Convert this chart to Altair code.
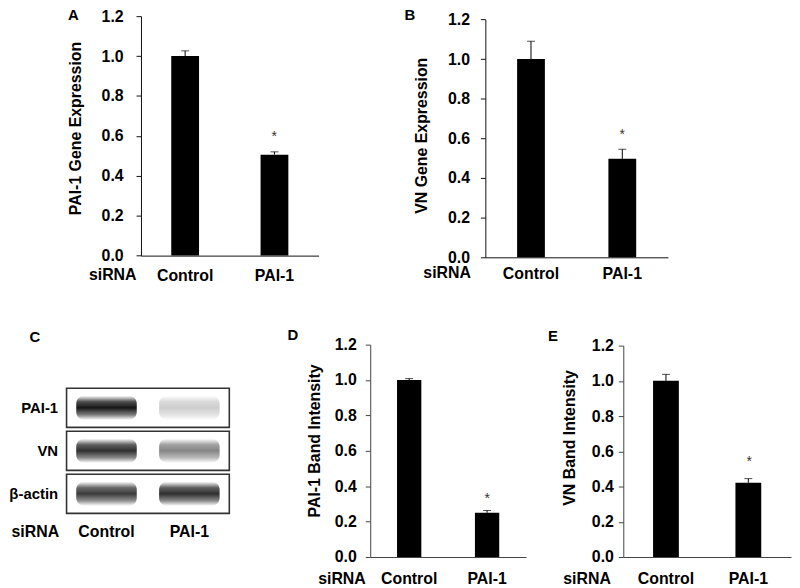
import altair as alt
import pandas as pd

# ---------------- data ----------------
groups = ["Control", "PAI-1"]
y_ticks = [0.0, 0.2, 0.4, 0.6, 0.8, 1.0, 1.2]

a_means = [1.00, 0.506]
a_upper = [1.026, 0.520]
a_star = 0.614

b_means = [1.00, 0.497]
b_upper = [1.090, 0.545]
b_star = 0.635

d_means = [1.00, 0.250]
d_upper = [1.008, 0.263]
d_star = 0.348

e_means = [1.00, 0.422]
e_upper = [1.037, 0.445]
e_star = 0.563

blot_rows = ["PAI-1", "VN", "β-actin"]
blot_lanes = ["Control", "PAI-1"]
pai1_band = [0.95, 0.20]
vn_band = [0.85, 0.50]
actin_band = [0.80, 0.85]

# ---------------- layout helpers ----------------
FONT = "Liberation Sans"
W, H = 790, 578
M = 8  # page margin


def loc(v):
    return v - M


def band_scale(domain, start, end, c1, c2, bw):
    step = c2 - c1
    m = ((c1 - start) + (end - c2)) / 2
    return alt.Scale(domain=domain, range=[loc(start), loc(end)],
                     paddingInner=1 - bw / step,
                     paddingOuter=(m - bw / 2) / step)


def bar_panel(means, upper, star, title, axis_x, axis_end, centers, bw,
              y0, y12, tick_pad, label_base, title_base, title_cy,
              sirna_right, color):
    df = pd.DataFrame({"group": groups, "mean": means, "upper": upper})
    star_df = pd.DataFrame({"group": [groups[1]], "star": [star]})

    def xs():
        return band_scale(groups, axis_x, axis_end, centers[0], centers[1], bw)

    def ys():
        return alt.Scale(domain=[0, 1.2], range=[loc(y0), loc(y12)], nice=False, zero=False)

    xaxis = alt.Axis(orient="bottom", offset=loc(y0) - H, labelAngle=0, ticks=False,
                     domainColor=color, labelPadding=label_base - y0 - 12.6,
                     title="siRNA", titleX=loc(sirna_right), titleY=label_base - y0,
                     titleAlign="right", titleBaseline="alphabetic")
    yaxis = alt.Axis(orient="left", offset=-loc(axis_x), values=y_ticks, format=".1f",
                     tickSize=5, labelPadding=tick_pad, domainColor=color, tickColor=color,
                     title=title, titleX=title_base - axis_x, titleY=loc(title_cy),
                     titleAngle=270, titleBaseline="alphabetic", titleAlign="center")
    base = alt.Chart(df)
    bars = base.mark_bar(color="black").encode(
        x=alt.X("group:N", scale=xs(), axis=xaxis),
        y=alt.Y("mean:Q", scale=ys(), axis=yaxis),
    )
    err = base.mark_rule(color="black", strokeWidth=1).encode(
        x=alt.X("group:N", scale=xs(), axis=None),
        y=alt.Y("mean:Q", scale=ys(), axis=None),
        y2="upper:Q",
    )
    cap = base.mark_tick(color="black", thickness=1, size=8).encode(
        x=alt.X("group:N", scale=xs(), axis=None),
        y=alt.Y("upper:Q", scale=ys(), axis=None),
    )
    st = alt.Chart(star_df).mark_text(text="*", font=FONT, fontSize=14, color="#333",
                                      baseline="middle", dy=4).encode(
        x=alt.X("group:N", scale=xs(), axis=None),
        y=alt.Y("star:Q", scale=ys(), axis=None),
    )
    return [bars, err, cap, st]


panel_a = bar_panel(a_means, a_upper, a_star, "PAI-1 Gene Expression",
                    142, 321, (186, 276), 28, 255.3, 14, 13, 279.6, 81.5, 126.7, 137, "#111")
panel_b = bar_panel(b_means, b_upper, b_star, "VN Gene Expression",
                    489, 673, (535.5, 627.5), 28, 257, 17.3, 11, 277.5, 430, 134, 474, "#111")
panel_d = bar_panel(d_means, d_upper, d_star, "PAI-1 Band Intensity",
                    373, 530, (412, 490.5), 24.5, 559, 345, 9, 585.5, 321.5, 441.5, 368, "#444")
panel_e = bar_panel(e_means, e_upper, e_star, "VN Band Intensity",
                    628, 797, (672, 755), 26, 559, 346, 5, 585.5, 578.5, 438.5, 615, "#444")

# ---------------- western blot (panel C) ----------------
def row_scale():
    return alt.Scale(domain=blot_rows, range=[loc(389), loc(515)],
                     paddingInner=0.09, paddingOuter=0)


frame_df = pd.DataFrame({"row": blot_rows, "frame": ["blot"] * len(blot_rows)})
frames = alt.Chart(frame_df).mark_rect(filled=False, stroke="#333", strokeWidth=1.6).encode(
    x=alt.X("frame:N", scale=alt.Scale(domain=["blot"], range=[loc(67), loc(231)],
                                       paddingInner=0, paddingOuter=0), axis=None),
    y=alt.Y("row:N", scale=row_scale(), axis=None),
)

blot_df = pd.DataFrame({
    "row": [r for r in blot_rows for _ in blot_lanes],
    "lane": blot_lanes * len(blot_rows),
    "intensity": pai1_band + vn_band + actin_band,
})
band_fill = alt.LinearGradient(
    gradient="linear",
    stops=[
        alt.GradientStop(color="rgba(20,20,20,0)", offset=0),
        alt.GradientStop(color="rgba(20,20,20,0.8)", offset=0.25),
        alt.GradientStop(color="rgba(10,10,10,1)", offset=0.5),
        alt.GradientStop(color="rgba(20,20,20,0.6)", offset=0.78),
        alt.GradientStop(color="rgba(20,20,20,0)", offset=1),
    ],
    x1=0, x2=0, y1=0, y2=1,
)
lane_scale = band_scale(blot_lanes, 67, 231, 107.5, 191, 61)
blot = alt.Chart(blot_df).mark_rect(height=alt.RelativeBandSize(0.62), cornerRadius=8,
                                    fill=band_fill).encode(
    x=alt.X("lane:N", scale=lane_scale,
            axis=alt.Axis(orient="bottom", offset=loc(515) - H, labelAngle=0, ticks=False,
                          domain=False, labelPadding=10.4, title="siRNA", titleX=loc(59),
                          titleY=23, titleAlign="right", titleBaseline="alphabetic")),
    y=alt.Y("row:N", scale=row_scale(),
            axis=alt.Axis(orient="left", offset=-loc(67), ticks=False, domain=False,
                          labelPadding=9, labelFontSize=15, title=None)),
    opacity=alt.Opacity("intensity:Q", scale=None, legend=None),
)

# ---------------- panel letters ----------------
letter_pos = {"A": (74, 18), "B": (413, 18), "C": (35, 342), "D": (295, 340), "E": (557, 341)}
letters = [
    alt.Chart(pd.DataFrame({"t": [k]})).mark_text(
        font=FONT, fontSize=15, fontWeight="bold", align="center", baseline="alphabetic",
        color="black").encode(text="t:N", x=alt.value(loc(px)), y=alt.value(loc(py)))
    for k, (px, py) in letter_pos.items()
]

chart = (
    alt.layer(*panel_a, *panel_b, frames, blot, *panel_d, *panel_e, *letters)
    .resolve_scale(x="independent", y="independent")
    .properties(width=W, height=H, padding=0, autosize=alt.AutoSizeParams(type="none"))
    .configure_view(strokeWidth=0)
    .configure_axis(
        grid=False,
        labelFont=FONT, labelFontSize=16, labelFontWeight="bold", labelColor="black",
        titleFont=FONT, titleFontSize=16, titleFontWeight="bold", titleColor="black",
    )
)

chart.save("out.html", embed_options={"renderer": "svg", "actions": False})
